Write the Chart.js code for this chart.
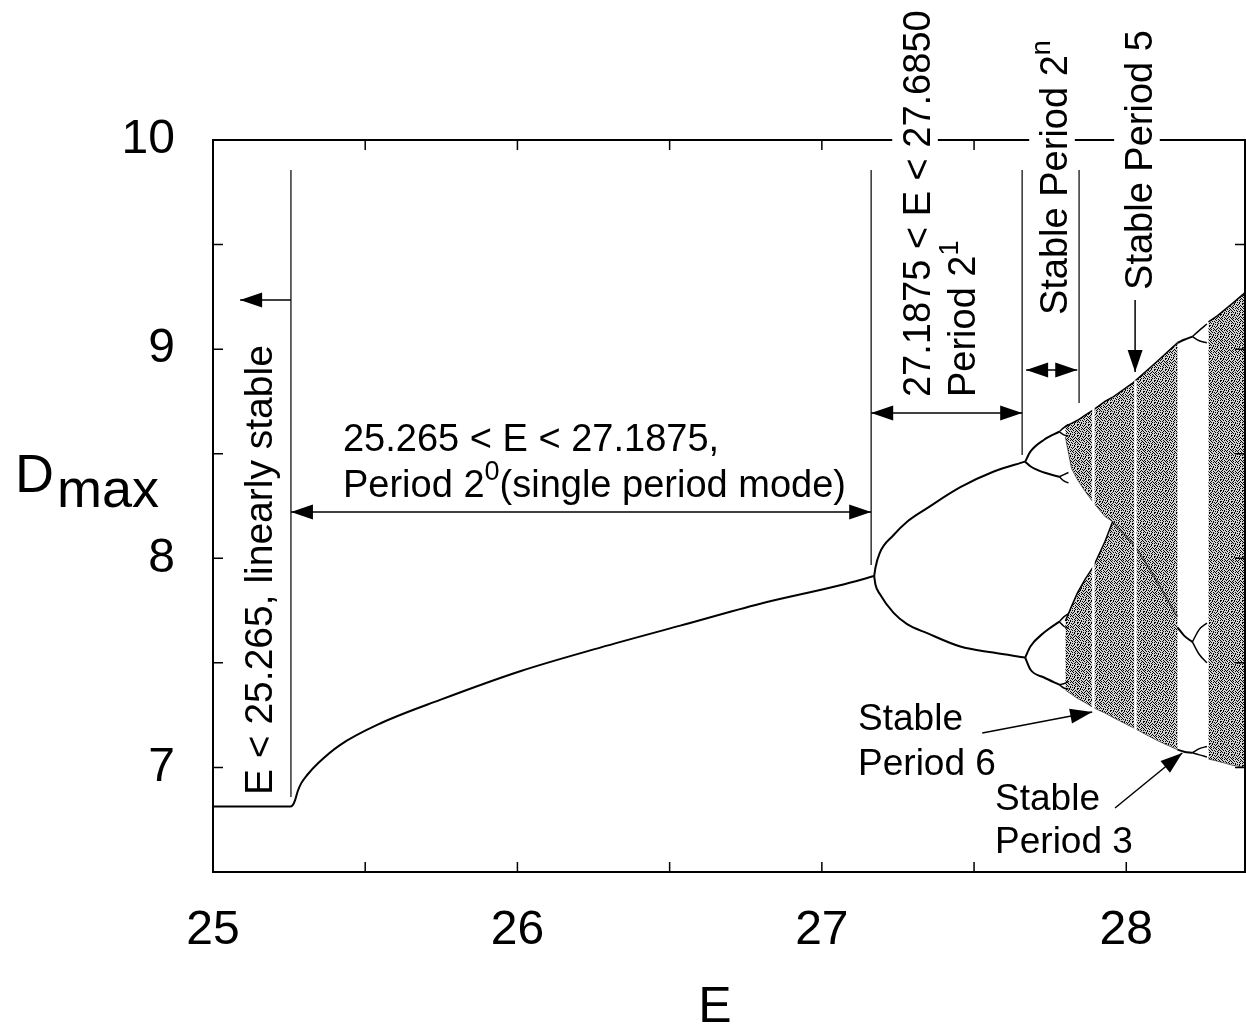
<!DOCTYPE html>
<html>
<head>
<meta charset="utf-8">
<script src="https://cdn.jsdelivr.net/npm/chart.js@4.4.1/dist/chart.umd.min.js"></script>
<style>
  html, body { margin: 0; padding: 0; background: #fff; }
</style>
</head>
<body>
<canvas id="bif" width="1246" height="1030"></canvas>
<script>
const FONT = '"Liberation Sans", Arial, sans-serif';

// axis ticks
const xTickLabels = [25, 26, 27, 28];
const yTickLabels = [7, 8, 9, 10];
const xTickMarks = [25.5, 26, 26.5, 27, 27.5, 28];
const yTickMarks = [7, 7.5, 8, 8.5, 9, 9.5];

// period 1 (flat linearly stable part + single period mode)
const p1E = [25, 25.253, 25.262, 25.27, 25.278, 25.29, 25.31, 25.345, 25.417, 25.549, 25.746, 26.009, 26.272, 26.535, 26.798, 27.06, 27.172];
const p1D = [6.813, 6.813, 6.82, 6.845, 6.885, 6.925, 6.965, 7.02, 7.107, 7.21, 7.323, 7.46, 7.573, 7.678, 7.783, 7.871, 7.915];

// period 2
const p2E = [27.172, 27.176, 27.19, 27.235, 27.28, 27.346, 27.455, 27.563, 27.668];
const p2UpperD = [7.915, 7.955, 8.025, 8.11, 8.175, 8.24, 8.34, 8.414, 8.462];
const p2LowerD = [7.915, 7.875, 7.83, 7.74, 7.685, 7.642, 7.578, 7.549, 7.525];

// period 4
const p4E = [27.668, 27.685, 27.73, 27.78];
const p4UUD = [8.462, 8.51, 8.567, 8.605];
const p4ULD = [8.462, 8.44, 8.41, 8.39];
const p4LUD = [7.525, 7.578, 7.645, 7.697];
const p4LLD = [7.525, 7.468, 7.43, 7.396];

// period 8 stubs
const p8E = [27.78, 27.795, 27.81];
const p8D = [
  [8.605, 8.625, 8.64], [8.605, 8.59, 8.585],
  [8.39, 8.40, 8.41], [8.39, 8.37, 8.36],
  [7.697, 7.72, 7.735], [7.697, 7.675, 7.665],
  [7.396, 7.40, 7.41], [7.396, 7.38, 7.375]
];

// chaotic bands (upper edge, lower edge)
const bandAE = [27.80, 27.82, 27.84, 27.865, 27.892, 27.93, 27.955];
const bandATop = [8.63, 8.645, 8.66, 8.685, 8.71, 8.75, 8.77];
const bandABot = [8.58, 8.43, 8.375, 8.32, 8.266, 8.20, 8.175];
const bandBE = [27.80, 27.82, 27.84, 27.865, 27.892, 27.93, 27.955];
const bandBTop = [7.70, 7.77, 7.836, 7.90, 7.96, 8.08, 8.175];
const bandBBot = [7.37, 7.35, 7.33, 7.31, 7.286, 7.26, 7.24];
const bandCE = [27.955, 28.023, 28.10, 28.168];
const bandCTop = [8.77, 8.84, 8.94, 9.03];
const bandCBot = [7.24, 7.19, 7.13, 7.085];
const bandDE = [28.27, 28.30, 28.35, 28.39];
const bandDTop = [9.13, 9.16, 9.22, 9.27];
const bandDBot = [7.04, 7.03, 7.01, 7.0];
const bands = [[bandAE, bandATop, bandABot], [bandBE, bandBTop, bandBBot],
               [bandCE, bandCTop, bandCBot], [bandDE, bandDTop, bandDBot]];

// dark structure line inside chaos
const ridgeE = [27.955, 28.036, 28.168];
const ridgeD = [8.175, 8.04, 7.72];

// periodic windows (white stripes) inside chaos
const stripeE = [27.892, 28.03];
const stripeLow = [7.28, 7.18];
const stripeHigh = [8.72, 8.85];

// period 3 window branches
const w3E = [28.168, 28.19, 28.217];
const w3TopD = [9.03, 9.045, 9.06];
const w3MidD = [7.67, 7.63, 7.60];
const w3BotD = [7.085, 7.075, 7.07];
const w6E = [28.217, 28.24, 28.265];
const w6D = [
  [9.06, 9.09, 9.12], [9.06, 9.04, 9.03],
  [7.60, 7.66, 7.69], [7.60, 7.54, 7.50],
  [7.07, 7.09, 7.10], [7.07, 7.06, 7.05]
];

function pts(xs, ys) { return xs.map((x, i) => ({ x: x, y: ys[i] })); }

function curve(xs, ys, extra) {
  return Object.assign({
    data: pts(xs, ys), borderColor: '#000', borderWidth: 2, pointRadius: 0,
    fill: false, cubicInterpolationMode: 'monotone', order: 1
  }, extra || {});
}

const datasets = [];
bands.forEach(b => {
  datasets.push(curve(b[0], b[1], { cubicInterpolationMode: 'default', tension: 0, borderWidth: 1.5, order: 20 }));
  datasets.push(curve(b[0], b[2], { cubicInterpolationMode: 'default', tension: 0, borderWidth: 1,
    borderColor: 'rgba(0,0,0,0.6)', order: 20 }));
});
datasets.push(curve(ridgeE, ridgeD, { borderColor: 'rgba(0,0,0,0.45)', borderWidth: 2, order: 15 }));
stripeE.forEach((e, i) => {
  datasets.push({ data: [{ x: e, y: stripeLow[i] }, { x: e, y: stripeHigh[i] }], borderColor: '#fff',
    borderWidth: 2.5, pointRadius: 0, fill: false, order: 10 });
});
datasets.push(curve(p1E, p1D));
datasets.push(curve(p2E, p2UpperD));
datasets.push(curve(p2E, p2LowerD));
[p4UUD, p4ULD, p4LUD, p4LLD].forEach(d => datasets.push(curve(p4E, d)));
p8D.forEach(d => datasets.push(curve(p8E, d, { borderWidth: 1.5 })));
[w3TopD, w3MidD, w3BotD].forEach(d => datasets.push(curve(w3E, d)));
w6D.forEach(d => datasets.push(curve(w6E, d, { borderWidth: 1.5 })));

// stipple used to shade the chaotic bands
const STIPPLE = [
  '#..#.#..#..',
  '.#....#..#.',
  '..#.#...#.#',
  '#....#.#...',
  '.#.#....#.#',
  '...#.#.#...',
  '#.#....#..#',
  '..#.#.#...#',
  '.#...#..#..',
  '#..#...#.#.',
  '.#..#.#...#'
];
function makeStipple(ctx) {
  const c = document.createElement('canvas');
  c.width = STIPPLE[0].length; c.height = STIPPLE.length;
  const g = c.getContext('2d');
  g.fillStyle = 'rgba(0,0,0,0.18)';
  g.fillRect(0, 0, c.width, c.height);
  g.fillStyle = '#000';
  STIPPLE.forEach((row, j) => row.split('').forEach((ch, i) => { if (ch === '#') g.fillRect(i, j, 1, 1); }));
  return ctx.createPattern(c, 'repeat');
}

const chaosFill = {
  id: 'chaosFill',
  beforeDatasetsDraw(chart) {
    const ctx = chart.ctx, a = chart.chartArea;
    const X = v => chart.scales.x.getPixelForValue(v);
    const Y = v => chart.scales.y.getPixelForValue(v);
    ctx.save();
    ctx.beginPath();
    ctx.rect(a.left, a.top, a.right - a.left, a.bottom - a.top);
    ctx.clip();
    ctx.fillStyle = makeStipple(ctx);
    bands.forEach(b => {
      ctx.beginPath();
      b[0].forEach((e, i) => { i ? ctx.lineTo(X(e), Y(b[1][i])) : ctx.moveTo(X(e), Y(b[1][i])); });
      for (let i = b[0].length - 1; i >= 0; i--) ctx.lineTo(X(b[0][i]), Y(b[2][i]));
      ctx.closePath();
      ctx.fill();
    });
    ctx.restore();
  }
};

function arrowHead(ctx, xt, yt, xf, yf) {
  const a = Math.atan2(yt - yf, xt - xf), L = 22, W = 7.5;
  ctx.beginPath();
  ctx.moveTo(xt, yt);
  ctx.lineTo(xt - L * Math.cos(a) + W * Math.sin(a), yt - L * Math.sin(a) - W * Math.cos(a));
  ctx.lineTo(xt - L * Math.cos(a) - W * Math.sin(a), yt - L * Math.sin(a) + W * Math.cos(a));
  ctx.closePath();
  ctx.fill();
}

function arrow(ctx, x1, y1, x2, y2, both) {
  ctx.beginPath(); ctx.moveTo(x1, y1); ctx.lineTo(x2, y2); ctx.stroke();
  arrowHead(ctx, x2, y2, x1, y1);
  if (both) arrowHead(ctx, x1, y1, x2, y2);
}

// text made of normal and superscript parts, drawn along +x from origin
function runText(ctx, parts, size, draw) {
  let x = 0;
  parts.forEach(p => {
    const s = p.sup ? Math.round(size * 0.7) : size;
    ctx.font = s + 'px ' + FONT;
    if (draw) ctx.fillText(p.t, x, p.sup ? -size * 0.45 : 0);
    x += ctx.measureText(p.t).width;
  });
  return x;
}

function rotText(ctx, parts, x, y, size) {
  ctx.save();
  ctx.translate(x, y);
  ctx.rotate(-Math.PI / 2);
  const w = runText(ctx, parts, size, false);
  ctx.fillStyle = '#fff';
  ctx.fillRect(-3, -size * 1.0, w + 6, size * 1.2);
  ctx.fillStyle = '#000';
  ctx.textBaseline = 'alphabetic';
  ctx.textAlign = 'left';
  runText(ctx, parts, size, true);
  ctx.restore();
}

const decor = {
  id: 'decor',
  afterDraw(chart) {
    const ctx = chart.ctx, a = chart.chartArea;
    const X = v => chart.scales.x.getPixelForValue(v);
    const Y = v => chart.scales.y.getPixelForValue(v);
    ctx.save();
    // frame with inward ticks
    ctx.strokeStyle = '#000';
    ctx.lineWidth = 2;
    ctx.strokeRect(a.left, a.top, a.right - a.left, a.bottom - a.top);
    ctx.lineWidth = 1.5;
    ctx.beginPath();
    xTickMarks.forEach(v => {
      const px = X(v);
      ctx.moveTo(px, a.bottom); ctx.lineTo(px, a.bottom - 10);
      ctx.moveTo(px, a.top); ctx.lineTo(px, a.top + 10);
    });
    yTickMarks.forEach(v => {
      const py = Y(v);
      ctx.moveTo(a.left, py); ctx.lineTo(a.left + 10, py);
      ctx.moveTo(a.right, py); ctx.lineTo(a.right - 10, py);
    });
    ctx.stroke();

    // axis titles
    ctx.fillStyle = '#000';
    ctx.textAlign = 'left';
    ctx.textBaseline = 'alphabetic';
    ctx.font = '54px ' + FONT;
    ctx.fillText('D', a.left - 198, 492);
    const wD = ctx.measureText('D').width;
    ctx.fillText('max', a.left - 198 + wD + 3, 507);
    ctx.textAlign = 'center';
    ctx.font = '50px ' + FONT;
    ctx.fillText('E', 715, 1022);

    // annotation lines
    ctx.strokeStyle = '#333';
    ctx.lineWidth = 1.5;
    [[25.256, 6.859], [27.162, 7.968], [27.658, 8.494], [27.845, 8.743]].forEach(l => {
      ctx.beginPath(); ctx.moveTo(X(l[0]), Y(9.857)); ctx.lineTo(X(l[0]), Y(l[1])); ctx.stroke();
    });
    ctx.strokeStyle = '#000';
    ctx.fillStyle = '#000';
    arrow(ctx, X(25.256), Y(9.235), X(25.089), Y(9.235), false);
    arrow(ctx, X(25.256), Y(8.221), X(27.162), Y(8.221), true);
    arrow(ctx, X(27.162), Y(8.695), X(27.658), Y(8.695), true);
    arrow(ctx, X(27.671), Y(8.90), X(27.839), Y(8.90), true);
    arrow(ctx, X(28.029), Y(9.235), X(28.029), Y(8.891), false);
    arrow(ctx, X(27.527), Y(7.165), X(27.888), Y(7.265), false);
    arrow(ctx, X(27.963), Y(6.806), X(28.184), Y(7.069), false);

    // horizontal texts
    const fs = 38, fp = 37;
    ctx.textAlign = 'left';
    ctx.textBaseline = 'alphabetic';
    ctx.font = fs + 'px ' + FONT;
    ctx.fillText('25.265 < E < 27.1875,', X(25.427), Y(8.513));
    ctx.save();
    ctx.translate(X(25.427), Y(8.293));
    runText(ctx, [{ t: 'Period 2' }, { t: '0', sup: true }, { t: '(single period mode)' }], fs, true);
    ctx.restore();
    ctx.font = fp + 'px ' + FONT;
    ctx.fillText('Stable', X(27.119), Y(7.179));
    ctx.fillText('Period 6', X(27.119), Y(6.964));
    ctx.fillText('Stable', X(27.569), Y(6.796));
    ctx.fillText('Period 3', X(27.569), Y(6.591));

    // rotated texts
    rotText(ctx, [{ t: 'E < 25.265, linearly stable' }], X(25.194), Y(6.868), 39);
    rotText(ctx, [{ t: '27.1875 < E < 27.6850' }], X(27.356), Y(8.771), 38);
    rotText(ctx, [{ t: 'Period 2' }, { t: '1', sup: true }], X(27.504), Y(8.771), 38);
    rotText(ctx, [{ t: 'Stable Period 2' }, { t: 'n', sup: true }], X(27.806), Y(9.163), 38);
    rotText(ctx, [{ t: 'Stable Period 5' }], X(28.085), Y(9.283), 38);
    ctx.restore();
  }
};

const chart = new Chart(document.getElementById('bif'), {
  type: 'line',
  data: { datasets: datasets },
  options: {
    responsive: false,
    animation: false,
    events: [],
    layout: { padding: { top: 140, right: 1, left: 0, bottom: 0 } },
    plugins: { legend: { display: false }, tooltip: { enabled: false } },
    scales: {
      x: {
        type: 'linear', min: 25, max: 28.39,
        afterFit: s => { s.height = 158; },
        afterBuildTicks: s => { s.ticks = xTickLabels.map(v => ({ value: v })); },
        grid: { display: false, drawTicks: false },
        border: { display: false },
        ticks: { padding: 30, color: '#000', maxRotation: 0, font: { family: FONT, size: 48 } }
      },
      y: {
        type: 'linear', min: 6.5, max: 10,
        afterFit: s => { s.width = 213; },
        afterBuildTicks: s => { s.ticks = yTickLabels.map(v => ({ value: v })); },
        grid: { display: false, drawTicks: false },
        border: { display: false },
        ticks: { padding: 38, color: '#000', font: { family: FONT, size: 48 } }
      }
    }
  },
  plugins: [chaosFill, decor]
});
</script>
</body>
</html>
